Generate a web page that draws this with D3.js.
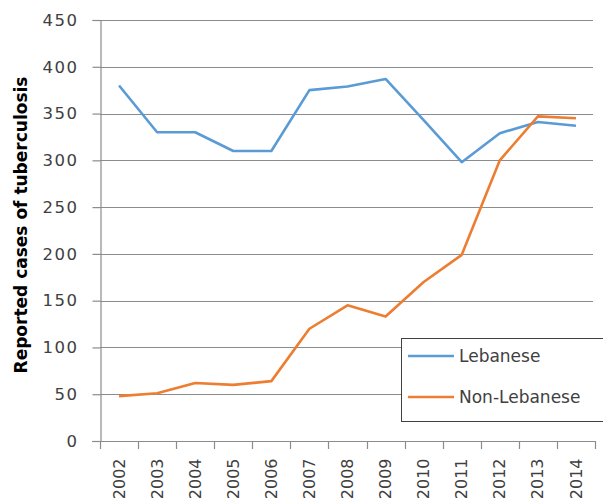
<!DOCTYPE html>
<html>
<head>
<meta charset="utf-8">
<script src="https://cdn.jsdelivr.net/npm/d3@7"></script>
<style>
  body { margin: 0; background: #fff; }
  text { font-family: "DejaVu Sans", Verdana, sans-serif; fill: #404040; }
</style>
</head>
<body>
<script>
var years = ['2002', '2003', '2004', '2005', '2006', '2007', '2008', '2009', '2010', '2011', '2012', '2013', '2014'];
var lebanese = [380, 330, 330, 310, 310, 375, 379, 387, 343, 298, 329, 341, 337];
var nonLebanese = [48, 51, 62, 60, 64, 120, 145, 133, 170, 199, 300, 347, 345];
var yTicks = [0, 50, 100, 150, 200, 250, 300, 350, 400, 450];
var seriesNames = ['Lebanese', 'Non-Lebanese'];
var seriesColors = ['#5B9BD5', '#ED7D31'];

var width = 603;
var height = 504;
var margin = {left: 100, right: 8, top: 20, bottom: 63};

var svg = d3.select('body')
    .append('svg')
    .attr('width', width)
    .attr('height', height);

var x = d3.scaleBand()
    .domain(years)
    .range([margin.left, width - margin.right]);

var y = d3.scaleLinear()
    .domain([0, 450])
    .range([height - margin.bottom, margin.top]);

// gridlines
svg.selectAll('.grid')
    .data(yTicks.slice(1))
    .enter()
    .append('line')
    .attr('x1', margin.left)
    .attr('x2', width - 10)
    .attr('y1', function(d){ return Math.round(y(d)) + 0.5; })
    .attr('y2', function(d){ return Math.round(y(d)) + 0.5; })
    .attr('stroke', '#8c8c8c')
    .attr('stroke-width', 1.2);

// y axis
var yAxis = svg.append('g')
    .attr('transform', 'translate(' + (margin.left + 0.5) + ',0)')
    .call(d3.axisLeft(y).tickValues(yTicks).tickSize(8).tickPadding(14));
yAxis.selectAll('text')
    .style('font-size', '16.5px')
    .style('letter-spacing', '1.5px')
    .attr('fill', '#404040');
yAxis.selectAll('line, path').attr('stroke', '#8c8c8c').attr('stroke-width', 1.2);

// x axis
var xAxis = svg.append('g')
    .attr('transform', 'translate(0,' + (Math.round(y(0)) + 0.5) + ')')
    .call(d3.axisBottom(x).tickSize(0));
xAxis.select('.domain').attr('stroke', '#8c8c8c').attr('stroke-width', 1.2)
    .attr('d', 'M' + (margin.left - 8) + ',0H' + (width - margin.right));
xAxis.selectAll('.tick line').remove();
xAxis.selectAll('.tick text')
    .style('font-size', '16px')
    .attr('fill', '#404040')
    .attr('text-anchor', 'end')
    .attr('dy', '0.35em')
    .attr('transform', 'translate(0,17) rotate(-90)')
    .attr('x', 0)
    .attr('y', 0);

// category boundary ticks
var bounds = years.map(function(d){ return x(d); }).concat([x.range()[1]]);
svg.selectAll('.xtick')
    .data(bounds)
    .enter()
    .append('line')
    .attr('x1', function(d){ return Math.round(d) + 0.5; })
    .attr('x2', function(d){ return Math.round(d) + 0.5; })
    .attr('y1', y(0))
    .attr('y2', y(0) + 8)
    .attr('stroke', '#8c8c8c')
    .attr('stroke-width', 1.2);

// y title
svg.append('text')
    .attr('transform', 'translate(27,225) rotate(-90)')
    .attr('text-anchor', 'middle')
    .style('font-size', '17px')
    .style('font-weight', 'bold')
    .style('fill', '#000')
    .text('Reported cases of tuberculosis');

var line = d3.line()
    .x(function(d, i){ return x(years[i]) + x.bandwidth() / 2; })
    .y(function(d){ return y(d); });

[lebanese, nonLebanese].forEach(function(s, i){
    svg.append('path')
        .attr('d', line(s))
        .attr('fill', 'none')
        .attr('stroke', seriesColors[i])
        .attr('stroke-width', 2.6)
        .attr('stroke-linejoin', 'round');
});

// legend
var legend = svg.append('g');
legend.append('rect')
    .attr('x', 401.5)
    .attr('y', 338.5)
    .attr('width', 210)
    .attr('height', 83)
    .attr('fill', '#fff')
    .attr('stroke', '#404040')
    .attr('stroke-width', 1);

seriesNames.forEach(function(name, i){
    var ly = 356 + i * 41;
    legend.append('line')
        .attr('x1', 408)
        .attr('x2', 454)
        .attr('y1', ly)
        .attr('y2', ly)
        .attr('stroke', seriesColors[i])
        .attr('stroke-width', 2.6);
    legend.append('text')
        .attr('x', 459)
        .attr('y', ly)
        .attr('dy', '0.35em')
        .style('font-size', '17px')
        .text(name);
});
</script>
</body>
</html>
